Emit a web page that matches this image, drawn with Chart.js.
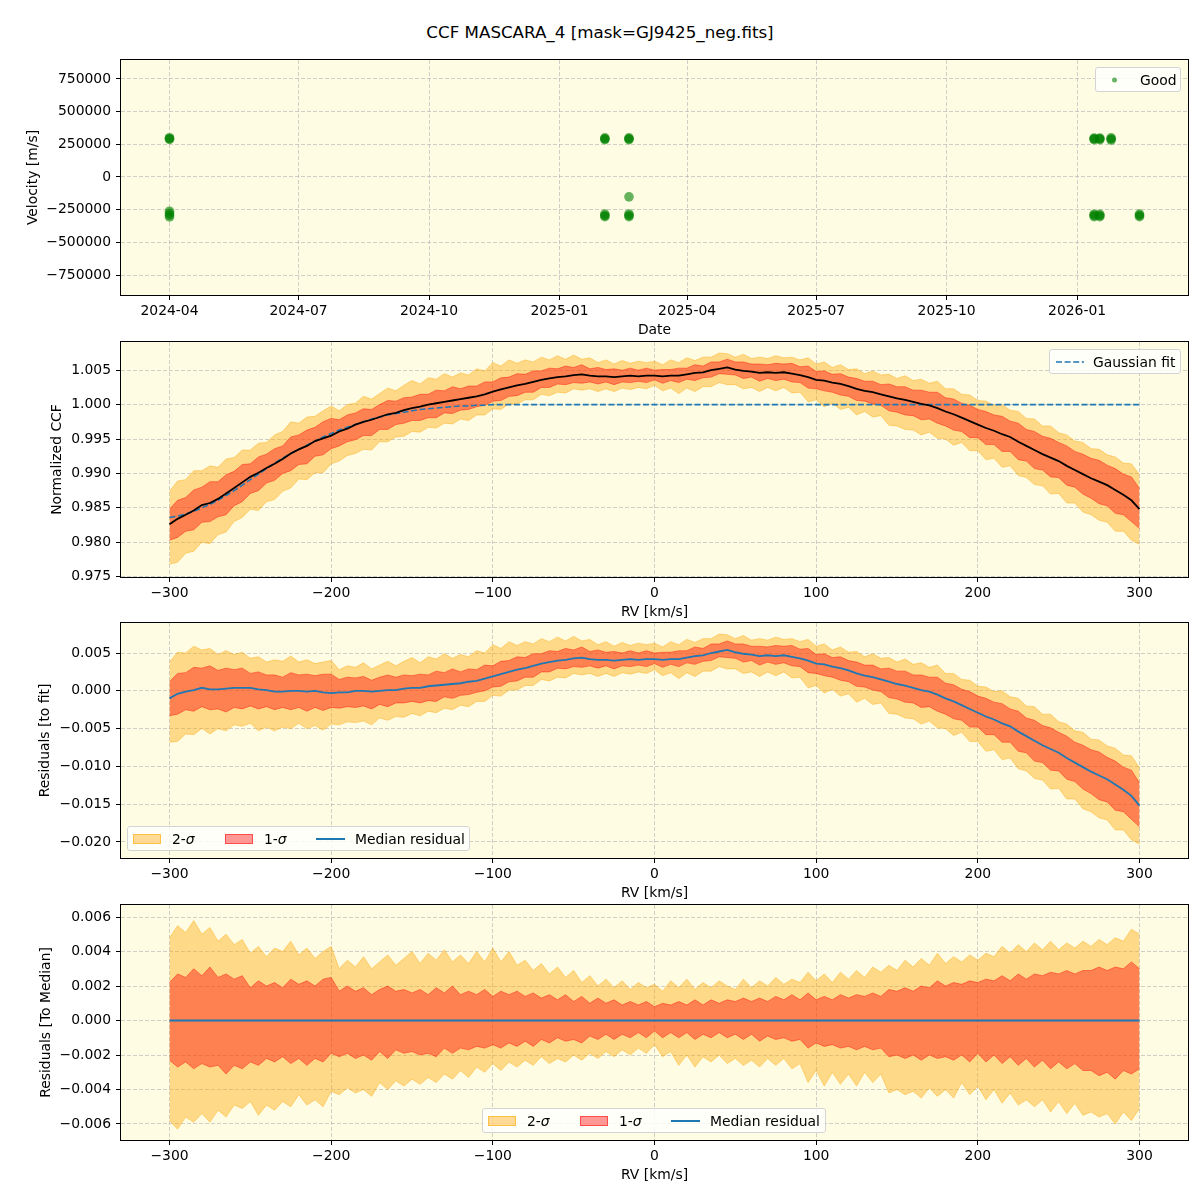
<!DOCTYPE html>
<html>
<head>
<meta charset="utf-8">
<script src="https://cdn.jsdelivr.net/npm/chart.js@4.4.1/dist/chart.umd.min.js"></script>
<style>
  body { margin: 0; background: #fff; font-family: "DejaVu Sans", sans-serif; color: #000; }
  #page { position: relative; width: 1200px; height: 1200px; overflow: hidden; }
  #title { position: absolute; top: 22px; left: 0; width: 1200px; text-align: center; font-size: 16.7px; line-height: 20px; }
  canvas { position: absolute; left: 0; }
  .legend { position: absolute; height: 25px; background: rgba(255,255,255,0.8); border: 1px solid #d4d4d4; border-radius: 3px; box-sizing: border-box; font-size: 13.9px; }
  .legend > * { position: absolute; top: 50%; transform: translateY(-50%); }
  .lt { white-space: nowrap; line-height: 16px; }
  .dot { width: 5px; height: 5px; border-radius: 50%; background: rgba(0,128,0,0.6); }
  .patch { width: 28px; height: 10px; box-sizing: border-box; }
  .p2 { background: rgba(255,165,0,0.4); border: 1px solid rgba(255,165,0,0.55); }
  .p1 { background: rgba(255,0,0,0.4); border: 1px solid rgba(255,0,0,0.5); }
  .ln { width: 29px; height: 2px; background: #1f77b4; }
</style>
</head>
<body>
<div id="page">
  <div id="title">CCF MASCARA_4 [mask=GJ9425_neg.fits]</div>
  <canvas id="c1" width="1200" height="290" style="top:50px"></canvas>
  <canvas id="c2" width="1200" height="290" style="top:332px"></canvas>
  <canvas id="c3" width="1200" height="290" style="top:613px"></canvas>
  <canvas id="c4" width="1200" height="290" style="top:895px"></canvas>

  <div class="legend" style="left:1095px;top:67px;width:86px">
    <span class="dot" style="left:16px"></span><span class="lt" style="left:44px">Good</span>
  </div>
  <div class="legend" style="left:1049px;top:349px;width:132px">
    <svg width="28" height="4" style="left:6px"><line x1="0" y1="2" x2="28" y2="2" stroke="#1f77b4" stroke-width="1.6" stroke-dasharray="6,2.6"/></svg>
    <span class="lt" style="left:43px">Gaussian fit</span>
  </div>
  <div class="legend" style="left:127px;top:826px;width:343px">
    <span class="patch p2" style="left:5px"></span><span class="lt" style="left:44px">2-<i>σ</i></span>
    <span class="patch p1" style="left:97px"></span><span class="lt" style="left:136px">1-<i>σ</i></span>
    <span class="ln" style="left:188px"></span><span class="lt" style="left:227px">Median residual</span>
  </div>
  <div class="legend" style="left:482px;top:1108px;width:344px">
    <span class="patch p2" style="left:5px"></span><span class="lt" style="left:44px">2-<i>σ</i></span>
    <span class="patch p1" style="left:97px"></span><span class="lt" style="left:136px">1-<i>σ</i></span>
    <span class="ln" style="left:188px"></span><span class="lt" style="left:227px">Median residual</span>
  </div>
</div>
<script>
// --- velocity time series (top panel) ---
const obsDates = [
  "2024-04-01", "2024-04-01", "2024-04-01", "2024-04-01", "2024-04-01", "2024-04-01", "2024-04-01",
  "2025-02-02", "2025-02-02", "2025-02-02", "2025-02-02", "2025-02-02", "2025-02-02",
  "2025-02-19", "2025-02-19", "2025-02-19", "2025-02-19", "2025-02-19", "2025-02-19", "2025-02-19",
  "2026-01-13", "2026-01-13", "2026-01-13", "2026-01-13", "2026-01-13", "2026-01-13",
  "2026-01-17", "2026-01-17", "2026-01-17", "2026-01-17", "2026-01-17", "2026-01-17",
  "2026-01-25", "2026-01-25", "2026-01-25",
  "2026-02-14", "2026-02-14", "2026-02-14"
];
const obsVel = [
  300000, 293000, 288000, -262000, -278000, -292000, -306000,
  299000, 292000, 286000, -284000, -295000, -304000,
  299000, 292000, 286000, -283000, -295000, -304000, -152000,
  298000, 292000, 286000, -285000, -294000, -303000,
  298000, 292000, 286000, -286000, -295000, -304000,
  299000, 291000, 283000,
  -284000, -294000, -304000
];
const dateTicks = ["2024-04-01", "2024-07-01", "2024-10-01", "2025-01-01", "2025-04-01", "2025-07-01", "2025-10-01", "2026-01-01"];
const velTicks = [-750000, -500000, -250000, 0, 250000, 500000, 750000];

// --- CCF profile (RV grid in km/s) ---
const rv = [
  -300, -295, -290, -285, -280, -275, -270, -265, -260, -255,
  -250, -245, -240, -235, -230, -225, -220, -215, -210, -205,
  -200, -195, -190, -185, -180, -175, -170, -165, -160, -155,
  -150, -145, -140, -135, -130, -125, -120, -115, -110, -105,
  -100, -95, -90, -85, -80, -75, -70, -65, -60, -55,
  -50, -45, -40, -35, -30, -25, -20, -15, -10, -5,
  0, 5, 10, 15, 20, 25, 30, 35, 40, 45,
  50, 55, 60, 65, 70, 75, 80, 85, 90, 95,
  100, 105, 110, 115, 120, 125, 130, 135, 140, 145,
  150, 155, 160, 165, 170, 175, 180, 185, 190, 195,
  200, 205, 210, 215, 220, 225, 230, 235, 240, 245,
  250, 255, 260, 265, 270, 275, 280, 285, 290, 295,
  300
];
const ccfMedian = [
  0.9826, 0.9834, 0.9840, 0.9846, 0.9854, 0.9857, 0.9863, 0.9871, 0.9879, 0.9887,
  0.9895, 0.9901, 0.9908, 0.9914, 0.9921, 0.9929, 0.9935, 0.9940, 0.9947, 0.9951,
  0.9955, 0.9961, 0.9965, 0.9971, 0.9975, 0.9978, 0.9982, 0.9986, 0.9988, 0.9992,
  0.9995, 0.9997, 1.0000, 1.0002, 1.0004, 1.0006, 1.0008, 1.0010, 1.0012, 1.0015,
  1.0019, 1.0022, 1.0025, 1.0028, 1.0030, 1.0033, 1.0036, 1.0038, 1.0040, 1.0041,
  1.0043, 1.0044, 1.0042, 1.0041, 1.0041, 1.0040, 1.0041, 1.0042, 1.0041, 1.0042,
  1.0042, 1.0041, 1.0042, 1.0042, 1.0044, 1.0046, 1.0047, 1.0050, 1.0052, 1.0054,
  1.0051, 1.0049, 1.0048, 1.0046, 1.0047, 1.0046, 1.0047, 1.0045, 1.0043, 1.0040,
  1.0036, 1.0035, 1.0032, 1.0030, 1.0027, 1.0023, 1.0020, 1.0018, 1.0015, 1.0012,
  1.0009, 1.0007, 1.0004, 1.0001, 0.9999, 0.9995, 0.9990, 0.9986, 0.9981, 0.9976,
  0.9971, 0.9966, 0.9962, 0.9957, 0.9953, 0.9946, 0.9940, 0.9934, 0.9928, 0.9923,
  0.9918, 0.9911, 0.9905, 0.9899, 0.9893, 0.9888, 0.9883, 0.9876, 0.9869, 0.9861,
  0.9848
];
const gaussFit = [
  0.9836, 0.9838, 0.9841, 0.9845, 0.9850, 0.9855, 0.9861, 0.9868, 0.9875, 0.9883,
  0.9891, 0.9899, 0.9907, 0.9915, 0.9922, 0.9929, 0.9935, 0.9941, 0.9947, 0.9953,
  0.9958, 0.9963, 0.9967, 0.9971, 0.9975, 0.9979, 0.9982, 0.9985, 0.9987, 0.9989,
  0.9991, 0.9993, 0.9994, 0.9995, 0.9996, 0.9997, 0.9998, 0.9998, 0.9999, 0.9999,
  1.0000, 1.0000, 1.0000, 1.0000, 1.0000, 1.0000, 1.0000, 1.0000, 1.0000, 1.0000,
  1.0000, 1.0000, 1.0000, 1.0000, 1.0000, 1.0000, 1.0000, 1.0000, 1.0000, 1.0000,
  1.0000, 1.0000, 1.0000, 1.0000, 1.0000, 1.0000, 1.0000, 1.0000, 1.0000, 1.0000,
  1.0000, 1.0000, 1.0000, 1.0000, 1.0000, 1.0000, 1.0000, 1.0000, 1.0000, 1.0000,
  1.0000, 1.0000, 1.0000, 1.0000, 1.0000, 1.0000, 1.0000, 1.0000, 1.0000, 1.0000,
  1.0000, 1.0000, 1.0000, 1.0000, 1.0000, 1.0000, 1.0000, 1.0000, 1.0000, 1.0000,
  1.0000, 1.0000, 1.0000, 1.0000, 1.0000, 1.0000, 1.0000, 1.0000, 1.0000, 1.0000,
  1.0000, 1.0000, 1.0000, 1.0000, 1.0000, 1.0000, 1.0000, 1.0000, 1.0000, 1.0000,
  1.0000
];
// spread of the CCFs around the median (offsets)
const sig2Hi = [
  0.0048, 0.0055, 0.0051, 0.0058, 0.0050, 0.0054, 0.0046, 0.0050, 0.0044, 0.0047,
  0.0039, 0.0043, 0.0037, 0.0042, 0.0040, 0.0046, 0.0038, 0.0042, 0.0036, 0.0040,
  0.0043, 0.0030, 0.0035, 0.0031, 0.0037, 0.0030, 0.0034, 0.0038, 0.0032, 0.0036,
  0.0040, 0.0033, 0.0039, 0.0035, 0.0041, 0.0034, 0.0038, 0.0033, 0.0040, 0.0034,
  0.0042, 0.0034, 0.0040, 0.0032, 0.0035, 0.0029, 0.0033, 0.0027, 0.0031, 0.0025,
  0.0029, 0.0022, 0.0026, 0.0020, 0.0024, 0.0019, 0.0023, 0.0018, 0.0022, 0.0019,
  0.0021, 0.0017, 0.0023, 0.0019, 0.0024, 0.0018, 0.0022, 0.0019, 0.0023, 0.0020,
  0.0018, 0.0024, 0.0019, 0.0023, 0.0020, 0.0025, 0.0021, 0.0024, 0.0022, 0.0028,
  0.0023, 0.0027, 0.0022, 0.0028, 0.0024, 0.0029, 0.0025, 0.0031, 0.0028, 0.0032,
  0.0029, 0.0035, 0.0031, 0.0036, 0.0032, 0.0039, 0.0033, 0.0037, 0.0034, 0.0038,
  0.0035, 0.0039, 0.0037, 0.0043, 0.0039, 0.0044, 0.0040, 0.0045, 0.0041, 0.0046,
  0.0041, 0.0045, 0.0042, 0.0046, 0.0043, 0.0047, 0.0044, 0.0048, 0.0046, 0.0053,
  0.0050
];
const sig1Hi = [
  0.0022, 0.0027, 0.0025, 0.0030, 0.0026, 0.0031, 0.0025, 0.0027, 0.0024, 0.0026,
  0.0019, 0.0023, 0.0020, 0.0022, 0.0019, 0.0024, 0.0021, 0.0023, 0.0020, 0.0024,
  0.0025, 0.0017, 0.0020, 0.0017, 0.0019, 0.0015, 0.0018, 0.0020, 0.0017, 0.0018,
  0.0016, 0.0018, 0.0015, 0.0019, 0.0016, 0.0020, 0.0015, 0.0017, 0.0015, 0.0018,
  0.0014, 0.0017, 0.0015, 0.0017, 0.0014, 0.0016, 0.0013, 0.0015, 0.0012, 0.0015,
  0.0011, 0.0014, 0.0010, 0.0013, 0.0010, 0.0012, 0.0009, 0.0011, 0.0009, 0.0011,
  0.0008, 0.0010, 0.0009, 0.0011, 0.0009, 0.0012, 0.0009, 0.0012, 0.0010, 0.0012,
  0.0011, 0.0013, 0.0011, 0.0013, 0.0011, 0.0014, 0.0012, 0.0015, 0.0012, 0.0016,
  0.0012, 0.0014, 0.0012, 0.0015, 0.0013, 0.0015, 0.0014, 0.0016, 0.0014, 0.0018,
  0.0017, 0.0019, 0.0017, 0.0020, 0.0019, 0.0023, 0.0020, 0.0022, 0.0021, 0.0023,
  0.0022, 0.0024, 0.0023, 0.0026, 0.0023, 0.0027, 0.0024, 0.0027, 0.0026, 0.0028,
  0.0027, 0.0029, 0.0027, 0.0029, 0.0029, 0.0031, 0.0029, 0.0031, 0.0030, 0.0034,
  0.0030
];
const sig1Lo = [
  -0.0023, -0.0027, -0.0024, -0.0028, -0.0025, -0.0027, -0.0026, -0.0031, -0.0026, -0.0028,
  -0.0024, -0.0026, -0.0022, -0.0024, -0.0021, -0.0025, -0.0022, -0.0026, -0.0022, -0.0024,
  -0.0019, -0.0021, -0.0019, -0.0022, -0.0020, -0.0023, -0.0018, -0.0022, -0.0017, -0.0019,
  -0.0018, -0.0020, -0.0019, -0.0021, -0.0016, -0.0019, -0.0016, -0.0017, -0.0015, -0.0016,
  -0.0014, -0.0016, -0.0013, -0.0015, -0.0012, -0.0015, -0.0011, -0.0013, -0.0010, -0.0012,
  -0.0011, -0.0013, -0.0009, -0.0011, -0.0008, -0.0011, -0.0008, -0.0010, -0.0007, -0.0010,
  -0.0006, -0.0010, -0.0007, -0.0010, -0.0007, -0.0011, -0.0008, -0.0010, -0.0007, -0.0010,
  -0.0008, -0.0011, -0.0008, -0.0012, -0.0009, -0.0011, -0.0010, -0.0012, -0.0011, -0.0016,
  -0.0013, -0.0015, -0.0014, -0.0016, -0.0015, -0.0017, -0.0015, -0.0017, -0.0016, -0.0021,
  -0.0020, -0.0022, -0.0020, -0.0023, -0.0020, -0.0022, -0.0021, -0.0023, -0.0020, -0.0024,
  -0.0019, -0.0024, -0.0020, -0.0025, -0.0021, -0.0026, -0.0022, -0.0027, -0.0023, -0.0028,
  -0.0024, -0.0028, -0.0025, -0.0029, -0.0029, -0.0032, -0.0030, -0.0034, -0.0029, -0.0031,
  -0.0028
];
const sig2Lo = [
  -0.0058, -0.0063, -0.0056, -0.0059, -0.0054, -0.0059, -0.0052, -0.0056, -0.0049, -0.0051,
  -0.0047, -0.0055, -0.0049, -0.0052, -0.0047, -0.0050, -0.0043, -0.0049, -0.0046, -0.0050,
  -0.0041, -0.0043, -0.0039, -0.0042, -0.0040, -0.0044, -0.0036, -0.0040, -0.0035, -0.0038,
  -0.0034, -0.0037, -0.0033, -0.0036, -0.0031, -0.0034, -0.0029, -0.0033, -0.0027, -0.0030,
  -0.0025, -0.0029, -0.0024, -0.0027, -0.0023, -0.0026, -0.0021, -0.0025, -0.0022, -0.0024,
  -0.0020, -0.0023, -0.0019, -0.0022, -0.0018, -0.0021, -0.0017, -0.0020, -0.0016, -0.0019,
  -0.0014, -0.0021, -0.0018, -0.0026, -0.0020, -0.0027, -0.0021, -0.0024, -0.0020, -0.0025,
  -0.0022, -0.0026, -0.0023, -0.0027, -0.0022, -0.0026, -0.0022, -0.0028, -0.0025, -0.0036,
  -0.0029, -0.0038, -0.0030, -0.0037, -0.0031, -0.0038, -0.0030, -0.0036, -0.0031, -0.0042,
  -0.0040, -0.0043, -0.0041, -0.0045, -0.0039, -0.0044, -0.0040, -0.0045, -0.0036, -0.0043,
  -0.0038, -0.0046, -0.0040, -0.0048, -0.0042, -0.0049, -0.0046, -0.0050, -0.0046, -0.0053,
  -0.0047, -0.0054, -0.0048, -0.0055, -0.0053, -0.0056, -0.0054, -0.0060, -0.0053, -0.0058,
  -0.0051
];
const rvTicks = [-300, -200, -100, 0, 100, 200, 300];
const ccfTicks = [0.975, 0.980, 0.985, 0.990, 0.995, 1.000, 1.005];
const resTicks = [-0.020, -0.015, -0.010, -0.005, 0.000, 0.005];
const medTicks = [-0.006, -0.004, -0.002, 0.000, 0.002, 0.004, 0.006];

const FONT = "'DejaVu Sans', sans-serif";
const BG = "#fefce3";
const GRID = "rgba(176,176,176,0.6)";
const ORANGE = "rgba(255,165,0,0.4)";
const RED = "rgba(255,0,0,0.4)";
const BLUE = "#1f77b4";

Chart.defaults.font.family = FONT;
Chart.defaults.font.size = 13.9;
Chart.defaults.color = "#000";
Chart.defaults.animation = false;

const minus = s => String(s).replace("-", "\u2212");

// yellow plot face and black box like the matplotlib axes
const frame = {
  id: "frame",
  beforeDraw(chart) {
    const { ctx, chartArea: a } = chart;
    ctx.save();
    ctx.fillStyle = BG;
    ctx.fillRect(a.left, a.top, a.width, a.height);
    ctx.restore();
  },
  afterDraw(chart) {
    const { ctx, chartArea: a } = chart;
    ctx.save();
    ctx.strokeStyle = "#000";
    ctx.lineWidth = 1;
    ctx.strokeRect(a.left - 0.5, a.top - 0.5, a.width + 1, a.height + 1);
    ctx.restore();
  }
};

function gridOpts() {
  return { color: GRID, tickColor: "#000", tickLength: 5, tickWidth: 1, tickBorderDash: [] };
}

function xAxis(min, max, ticks, fmt, title) {
  return {
    type: "linear", min, max,
    afterBuildTicks: s => { s.ticks = ticks.map(v => ({ value: v })); },
    afterFit: s => { s.height = 45; s.paddingLeft = 0; s.paddingRight = 0; },
    ticks: { callback: fmt, padding: 3, maxRotation: 0, autoSkip: false },
    grid: gridOpts(),
    border: { display: false, dash: [4, 2] },
    title: { display: true, text: title, padding: { top: 0, bottom: 1.5 } }
  };
}

function yAxis(min, max, ticks, fmt, title, titleX) {
  return {
    type: "linear", min, max,
    afterBuildTicks: s => { s.ticks = ticks.map(v => ({ value: v })); },
    afterFit: s => { s.width = 121; s.paddingTop = 0; s.paddingBottom = 0; },
    ticks: { callback: fmt, padding: 5, autoSkip: false },
    grid: gridOpts(),
    border: { display: false, dash: [4, 2] },
    title: { display: true, text: title, padding: { top: titleX - 8.34, bottom: 0 } }
  };
}

function baseOptions(scales) {
  return {
    responsive: false,
    devicePixelRatio: 1,
    layout: { padding: { top: 10, right: 12, bottom: 0, left: 0 } },
    plugins: { legend: { display: false }, tooltip: { enabled: false } },
    scales
  };
}

const pts = arr => rv.map((x, i) => ({ x, y: arr[i] }));
const line = (data, color, width, order, extra) => Object.assign({
  data, borderColor: color, borderWidth: width, pointRadius: 0, tension: 0, fill: false, order
}, extra || {});

// band datasets: index 1/2 = 1-sigma, 3/4 = 2-sigma
function bandSets(lo1, hi1, lo2, hi2) {
  return [
    line(lo1, RED, 1, 3),
    line(hi1, RED, 1, 4, { fill: { target: 1 }, backgroundColor: RED }),
    line(lo2, ORANGE, 1, 5),
    line(hi2, ORANGE, 1, 6, { fill: { target: 3 }, backgroundColor: ORANGE })
  ];
}

// --- panel 1: velocities ---
const obsTimes = obsDates.map(d => Date.parse(d + "T00:00:00Z"));
const tMin = Math.min(...obsTimes), tMax = Math.max(...obsTimes);
const tPad = (tMax - tMin) * 0.05;
new Chart(document.getElementById("c1"), {
  type: "scatter",
  data: {
    datasets: [{
      data: obsTimes.map((t, i) => ({ x: t, y: obsVel[i] })),
      backgroundColor: "rgba(0,128,0,0.6)", borderWidth: 0, pointRadius: 4.8
    }]
  },
  options: baseOptions({
    x: xAxis(tMin - tPad, tMax + tPad, dateTicks.map(d => Date.parse(d + "T00:00:00Z")),
      v => new Date(v).toISOString().slice(0, 7), "Date"),
    y: yAxis(-903000, 895000, velTicks, v => minus(v), "Velocity [m/s]", 33)
  }),
  plugins: [frame]
});

// --- panel 2: normalized CCF ---
new Chart(document.getElementById("c2"), {
  type: "line",
  data: {
    datasets: [
      line(pts(ccfMedian), "#000", 1.8, 0),
      ...bandSets(
        pts(ccfMedian.map((m, i) => m + sig1Lo[i])), pts(ccfMedian.map((m, i) => m + sig1Hi[i])),
        pts(ccfMedian.map((m, i) => m + sig2Lo[i])), pts(ccfMedian.map((m, i) => m + sig2Hi[i]))),
      line(pts(gaussFit), BLUE, 1.6, 1, { borderDash: [6, 2.6] })
    ]
  },
  options: baseOptions({
    x: xAxis(-330, 330, rvTicks, v => minus(v), "RV [km/s]"),
    y: yAxis(0.97495, 1.0091, ccfTicks, v => minus(v.toFixed(3)), "Normalized CCF", 57)
  }),
  plugins: [frame]
});

// --- panel 3: residuals to the fit ---
const resid = arr => arr.map((v, i) => v - gaussFit[i]);
new Chart(document.getElementById("c3"), {
  type: "line",
  data: {
    datasets: [
      line(pts(resid(ccfMedian)), BLUE, 1.8, 0),
      ...bandSets(
        pts(resid(ccfMedian.map((m, i) => m + sig1Lo[i]))), pts(resid(ccfMedian.map((m, i) => m + sig1Hi[i]))),
        pts(resid(ccfMedian.map((m, i) => m + sig2Lo[i]))), pts(resid(ccfMedian.map((m, i) => m + sig2Hi[i]))))
    ]
  },
  options: baseOptions({
    x: xAxis(-330, 330, rvTicks, v => minus(v), "RV [km/s]"),
    y: yAxis(-0.02212, 0.00897, resTicks, v => minus(v.toFixed(3)), "Residuals [to fit]", 45)
  }),
  plugins: [frame]
});

// --- panel 4: residuals to the median ---
new Chart(document.getElementById("c4"), {
  type: "line",
  data: {
    datasets: [
      line(pts(ccfMedian.map(() => 0)), BLUE, 1.8, 0),
      ...bandSets(pts(sig1Lo), pts(sig1Hi), pts(sig2Lo), pts(sig2Hi))
    ]
  },
  options: baseOptions({
    x: xAxis(-330, 330, rvTicks, v => minus(v), "RV [km/s]"),
    y: yAxis(-0.00693, 0.0067, medTicks, v => minus(v.toFixed(3)), "Residuals [To Median]", 46)
  }),
  plugins: [frame]
});
</script>
</body>
</html>
